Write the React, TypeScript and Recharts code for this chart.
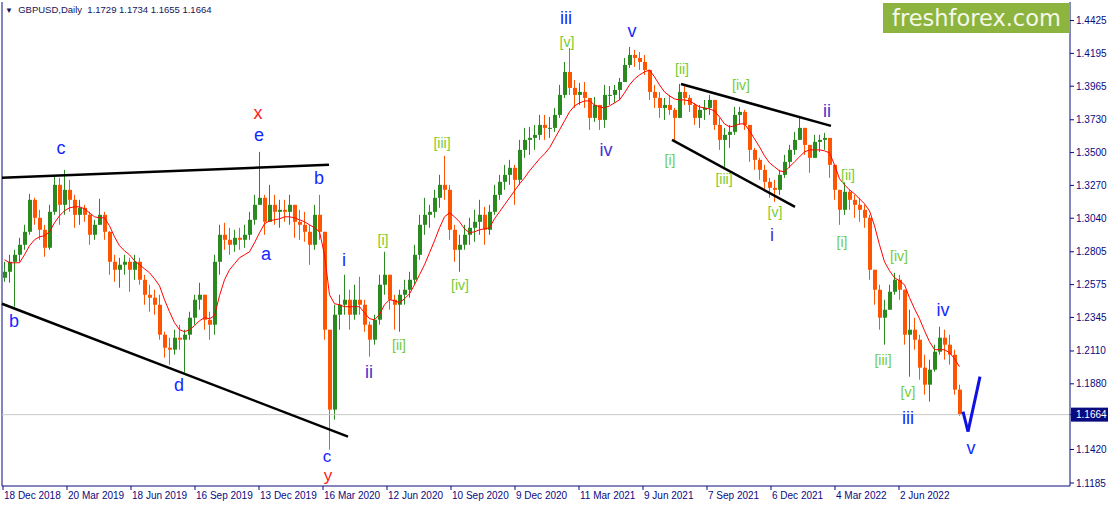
import { ComposedChart, Bar, Line, XAxis, YAxis, ReferenceLine, ReferenceDot } from 'recharts'

// weekly candles (open = previous close)
const firstOpen = 1.2623
const highs = [
  1.2735, 1.2784, 1.2819, 1.2903, 1.2994, 1.3211, 1.3183, 1.3099, 1.2994, 1.3134,
  1.3337, 1.3323, 1.3379, 1.3309, 1.3204, 1.3169, 1.3134, 1.3085, 1.3029, 1.3176,
  1.3085, 1.2950, 1.2784, 1.2763, 1.2784, 1.2763, 1.2784, 1.2763, 1.2644, 1.2574,
  1.2539, 1.2504, 1.2245, 1.2203, 1.2259, 1.2294, 1.2259, 1.2385, 1.2504, 1.2588,
  1.2434, 1.2385, 1.2784, 1.2994, 1.3008, 1.2973, 1.2959, 1.2973, 1.2994, 1.3085,
  1.3204, 1.3505, 1.3204, 1.3274, 1.3204, 1.3169, 1.3169, 1.3204, 1.3134, 1.3099,
  1.3085, 1.2994, 1.3134, 1.3204, 1.2945, 1.2259, 1.2434, 1.2504, 1.2644, 1.2539,
  1.2574, 1.2630, 1.2469, 1.2315, 1.2364, 1.2644, 1.2805, 1.2609, 1.2504, 1.2539,
  1.2609, 1.2665, 1.2854, 1.3064, 1.3183, 1.3134, 1.3239, 1.3344, 1.3477, 1.3274,
  1.2994, 1.2924, 1.2994, 1.3043, 1.3099, 1.3169, 1.3120, 1.3134, 1.3274, 1.3344,
  1.3414, 1.3449, 1.3414, 1.3589, 1.3673, 1.3680, 1.3694, 1.3764, 1.3764, 1.3750,
  1.3813, 1.3974, 1.4135, 1.4233, 1.4009, 1.3988, 1.3995, 1.3869, 1.3890, 1.3834,
  1.3974, 1.3967, 1.3974, 1.4023, 1.4163, 1.4240, 1.4219, 1.4205, 1.4184, 1.4079,
  1.3974, 1.3925, 1.3883, 1.3904, 1.3813, 1.3981, 1.3967, 1.3904, 1.3848, 1.3834,
  1.3869, 1.3904, 1.3834, 1.3743, 1.3673, 1.3694, 1.3820, 1.3820, 1.3799, 1.3694,
  1.3533, 1.3463, 1.3414, 1.3323, 1.3309, 1.3379, 1.3484, 1.3554, 1.3645, 1.3743,
  1.3673, 1.3554, 1.3624, 1.3624, 1.3638, 1.3603, 1.3414, 1.3239, 1.3288, 1.3239,
  1.3204, 1.3183, 1.3134, 1.3064, 1.2679, 1.2574, 1.2469, 1.2574, 1.2658, 1.2644,
  1.2539, 1.2399, 1.2343, 1.2224, 1.2084, 1.2049, 1.2154, 1.2280, 1.2259, 1.2224,
  1.2119, 1.1874,
]
const lows = [
  1.2595, 1.2588, 1.2420, 1.2735, 1.2819, 1.2924, 1.2994, 1.2889, 1.2770, 1.2819,
  1.3064, 1.2994, 1.3064, 1.3085, 1.2973, 1.2994, 1.3015, 1.2854, 1.2889, 1.2994,
  1.2889, 1.2644, 1.2595, 1.2553, 1.2644, 1.2525, 1.2609, 1.2574, 1.2434, 1.2385,
  1.2364, 1.2189, 1.2063, 1.2014, 1.2084, 1.2119, 1.1958, 1.2189, 1.2294, 1.2399,
  1.2259, 1.2189, 1.2224, 1.2644, 1.2819, 1.2784, 1.2805, 1.2819, 1.2833, 1.2889,
  1.2994, 1.3134, 1.2924, 1.3029, 1.2994, 1.2973, 1.3015, 1.2994, 1.2903, 1.2889,
  1.2875, 1.2714, 1.2819, 1.2889, 1.2189, 1.1419, 1.1629, 1.2259, 1.2364, 1.2259,
  1.2329, 1.2364, 1.2245, 1.2070, 1.2154, 1.2294, 1.2504, 1.2399, 1.2259, 1.2245,
  1.2434, 1.2483, 1.2574, 1.2749, 1.2924, 1.2973, 1.3043, 1.3113, 1.3169, 1.2889,
  1.2735, 1.2665, 1.2819, 1.2854, 1.2875, 1.2924, 1.2854, 1.2924, 1.3064, 1.3169,
  1.3239, 1.3274, 1.3134, 1.3274, 1.3463, 1.3484, 1.3519, 1.3589, 1.3589, 1.3603,
  1.3645, 1.3743, 1.3883, 1.3904, 1.3813, 1.3834, 1.3813, 1.3659, 1.3715, 1.3659,
  1.3673, 1.3834, 1.3848, 1.3869, 1.3995, 1.4093, 1.4100, 1.4079, 1.4044, 1.3869,
  1.3813, 1.3743, 1.3729, 1.3764, 1.3575, 1.3743, 1.3834, 1.3785, 1.3694, 1.3673,
  1.3729, 1.3764, 1.3659, 1.3519, 1.3400, 1.3533, 1.3624, 1.3694, 1.3659, 1.3435,
  1.3379, 1.3309, 1.3239, 1.3183, 1.3155, 1.3204, 1.3323, 1.3393, 1.3484, 1.3589,
  1.3484, 1.3358, 1.3463, 1.3505, 1.3519, 1.3323, 1.3169, 1.2994, 1.3064, 1.3099,
  1.3043, 1.3015, 1.2973, 1.2609, 1.2434, 1.2259, 1.2154, 1.2399, 1.2504, 1.2469,
  1.2154, 1.1930, 1.2119, 1.1909, 1.1804, 1.1755, 1.1965, 1.2084, 1.2049, 1.2014,
  1.1804, 1.1655,
]
const closes = [
  1.2665, 1.2735, 1.2784, 1.2854, 1.2945, 1.3169, 1.3043, 1.2959, 1.2833, 1.3085,
  1.3274, 1.3134, 1.3239, 1.3169, 1.3064, 1.3113, 1.3064, 1.2924, 1.2994, 1.3064,
  1.2945, 1.2735, 1.2679, 1.2714, 1.2735, 1.2679, 1.2735, 1.2609, 1.2504, 1.2483,
  1.2434, 1.2224, 1.2133, 1.2119, 1.2203, 1.2189, 1.2224, 1.2343, 1.2469, 1.2504,
  1.2329, 1.2294, 1.2735, 1.2924, 1.2889, 1.2854, 1.2903, 1.2889, 1.2924, 1.3029,
  1.3134, 1.3183, 1.3015, 1.3134, 1.3085, 1.3099, 1.3085, 1.3134, 1.3015, 1.2994,
  1.2945, 1.2854, 1.3064, 1.2945, 1.2259, 1.1699, 1.2364, 1.2434, 1.2469, 1.2364,
  1.2469, 1.2434, 1.2294, 1.2189, 1.2329, 1.2574, 1.2644, 1.2469, 1.2434, 1.2504,
  1.2539, 1.2609, 1.2784, 1.2994, 1.3064, 1.3085, 1.3183, 1.3274, 1.3239, 1.2959,
  1.2819, 1.2854, 1.2924, 1.2973, 1.3015, 1.3064, 1.2959, 1.3085, 1.3204, 1.3295,
  1.3344, 1.3393, 1.3309, 1.3519, 1.3589, 1.3603, 1.3624, 1.3694, 1.3673, 1.3673,
  1.3764, 1.3904, 1.4065, 1.3953, 1.3904, 1.3925, 1.3883, 1.3743, 1.3834, 1.3729,
  1.3904, 1.3904, 1.3939, 1.3995, 1.4114, 1.4184, 1.4163, 1.4135, 1.4079, 1.3925,
  1.3883, 1.3813, 1.3834, 1.3799, 1.3743, 1.3925, 1.3883, 1.3834, 1.3743, 1.3799,
  1.3813, 1.3869, 1.3694, 1.3589, 1.3624, 1.3645, 1.3764, 1.3785, 1.3694, 1.3519,
  1.3449, 1.3379, 1.3295, 1.3253, 1.3239, 1.3344, 1.3435, 1.3519, 1.3589, 1.3673,
  1.3554, 1.3463, 1.3575, 1.3589, 1.3603, 1.3414, 1.3239, 1.3099, 1.3225, 1.3169,
  1.3134, 1.3099, 1.3043, 1.2679, 1.2539, 1.2343, 1.2399, 1.2525, 1.2609, 1.2539,
  1.2224, 1.2259, 1.2189, 1.1993, 1.1874, 1.1979, 1.2105, 1.2203, 1.2154, 1.2084,
  1.1839, 1.1664,
]
// red moving average as drawn on the chart, one value per week
const ma20 = [
  1.2749, 1.2728, 1.2728, 1.2728, 1.2784, 1.2847, 1.2889, 1.2910, 1.2917, 1.2945,
  1.3008, 1.3057, 1.3092, 1.3113, 1.3120, 1.3120, 1.3106, 1.3078, 1.3050, 1.3043,
  1.3043, 1.2987, 1.2910, 1.2847, 1.2812, 1.2784, 1.2742, 1.2714, 1.2686, 1.2658,
  1.2616, 1.2567, 1.2469, 1.2385, 1.2308, 1.2259, 1.2245, 1.2259, 1.2287, 1.2322,
  1.2343, 1.2336, 1.2357, 1.2497, 1.2609, 1.2679, 1.2721, 1.2763, 1.2784, 1.2805,
  1.2868, 1.2938, 1.3001, 1.3022, 1.3029, 1.3036, 1.3050, 1.3050, 1.3043, 1.3029,
  1.3015, 1.2994, 1.2973, 1.2945, 1.2784, 1.2504, 1.2441, 1.2434, 1.2420, 1.2420,
  1.2420, 1.2420, 1.2378, 1.2336, 1.2329, 1.2364, 1.2434, 1.2469, 1.2462, 1.2448,
  1.2476, 1.2511, 1.2574, 1.2644, 1.2714, 1.2798, 1.2882, 1.2973, 1.3050, 1.3078,
  1.3050, 1.3015, 1.2966, 1.2938, 1.2945, 1.2959, 1.2966, 1.2973, 1.3036, 1.3085,
  1.3134, 1.3183, 1.3232, 1.3281, 1.3323, 1.3372, 1.3414, 1.3456, 1.3491, 1.3533,
  1.3596, 1.3659, 1.3722, 1.3785, 1.3827, 1.3848, 1.3862, 1.3862, 1.3834, 1.3820,
  1.3813, 1.3827, 1.3848, 1.3869, 1.3918, 1.3974, 1.4016, 1.4044, 1.4065, 1.4079,
  1.4030, 1.3974, 1.3925, 1.3897, 1.3876, 1.3869, 1.3869, 1.3862, 1.3841, 1.3820,
  1.3813, 1.3806, 1.3792, 1.3750, 1.3701, 1.3680, 1.3687, 1.3701, 1.3701, 1.3652,
  1.3596, 1.3540, 1.3477, 1.3428, 1.3400, 1.3372, 1.3365, 1.3400, 1.3435, 1.3470,
  1.3505, 1.3519, 1.3519, 1.3519, 1.3512, 1.3498, 1.3414, 1.3316, 1.3274, 1.3239,
  1.3211, 1.3176, 1.3141, 1.3092, 1.2987, 1.2854, 1.2735, 1.2672, 1.2623, 1.2602,
  1.2574, 1.2483, 1.2406, 1.2336, 1.2252, 1.2175, 1.2119, 1.2119, 1.2119, 1.2098,
  1.2056, 1.2000,
]

// x axis is counted in trading days from 18 Dec 2018
const dateTicks = [1, 65, 129, 193, 257, 321, 385, 449, 513, 577, 641, 705, 769, 833, 897]
const dateLabels = [
  '18 Dec 2018', '20 Mar 2019', '18 Jun 2019', '16 Sep 2019', '13 Dec 2019', '16 Mar 2020',
  '12 Jun 2020', '10 Sep 2020', '9 Dec 2020', '11 Mar 2021', '9 Jun 2021', '7 Sep 2021',
  '6 Dec 2021', '4 Mar 2022', '2 Jun 2022',
]
const priceTicks = [
  1.4425, 1.4195, 1.3965, 1.373, 1.35, 1.327, 1.304, 1.2805, 1.2575, 1.2345,
  1.211, 1.188, 1.1664, 1.142, 1.1185,
]
const lastPrice = 1.1664

const BLUE = '#1428ff'
const INDIGO = '#4632d2'
const RED = '#ff2020'
const LIME = '#74cc34'

// wave counts [text, day, price, colour, size]
const waveLabels: [string, number, number, string, number][] = [
  ['c', 59, 1.3533, BLUE, 18], ['b', 12, 1.2322, BLUE, 18], ['d', 177, 1.1874, BLUE, 18],
  ['x', 256, 1.3778, RED, 18], ['e', 257, 1.3624, BLUE, 18], ['a', 264, 1.2791, BLUE, 18],
  ['b', 317, 1.3323, BLUE, 18], ['c', 325, 1.1377, BLUE, 17], ['y', 326, 1.1242, RED, 17],
  ['i', 342, 1.2749, BLUE, 18], ['ii', 367, 1.1965, INDIGO, 18],
  ['[i]', 381, 1.2889, LIME, 14], ['[ii]', 397, 1.2154, LIME, 14], ['[iii]', 440, 1.3568, LIME, 14],
  ['[iv]', 458, 1.2574, LIME, 14], ['iii', 564, 1.4443, BLUE, 18], ['[v]', 565, 1.4275, LIME, 14],
  ['v', 630, 1.4352, BLUE, 18], ['iv', 604, 1.3519, INDIGO, 18],
  ['[ii]', 680, 1.4086, LIME, 14], ['[i]', 668, 1.3449, LIME, 14], ['[iv]', 739, 1.3974, LIME, 14],
  ['[iii]', 722, 1.3316, LIME, 14], ['ii', 825, 1.3792, INDIGO, 18], ['[v]', 773, 1.3085, LIME, 14],
  ['i', 770, 1.2924, INDIGO, 18], ['[ii]', 846, 1.3344, LIME, 14], ['[i]', 840, 1.2875, LIME, 14],
  ['[iv]', 897, 1.2777, LIME, 14], ['[iii]', 881, 1.2049, LIME, 14], ['[v]', 906, 1.1825, LIME, 14],
  ['iii', 906, 1.1643, BLUE, 18], ['iv', 941, 1.2399, BLUE, 18], ['v', 969, 1.1433, BLUE, 18],
]

// trend lines [day1, price1, day2, price2, colour]
const trendLines: [number, number, number, number, string][] = [
  [0, 1.3323, 327, 1.3414, '#000000'],
  [0, 1.2441, 346, 1.1510, '#000000'],
  [679, 1.3981, 829, 1.3687, '#000000'],
  [670, 1.3589, 793, 1.3120, '#000000'],
  [961, 1.1685, 966, 1.1545, '#1010e0'],
  [966, 1.1545, 978, 1.1930, '#1010e0'],
]

const UP = '#2a8a1f'
const DOWN = '#ff5500'
const NAVY = '#0a0a80'

const candles = closes.map((c, i) => ({
  day: 5 * i + 2.5,
  open: i === 0 ? firstOpen : closes[i - 1],
  high: highs[i],
  low: lows[i],
  close: c,
  range: [lows[i], highs[i]],
  ma: ma20[i],
}))

const Candle = (props: any) => {
  const { x, y, width, height, payload } = props
  if (x == null || !payload) return null
  const top = Math.min(y, y + height)
  const bot = Math.max(y, y + height)
  const { open, close, high, low } = payload
  const span = high - low || 0.0001
  const py = (v: number) => top + ((high - v) / span) * (bot - top)
  const cx = x + width / 2
  const color = close >= open ? UP : DOWN
  const bTop = py(Math.max(open, close))
  const bBot = py(Math.min(open, close))
  return (
    <g>
      <line x1={cx} x2={cx} y1={py(Math.max(high, open, close))} y2={py(Math.min(low, open, close))}
        stroke={color} strokeWidth={1} />
      <rect x={cx - 1.5} y={bTop} width={4} height={Math.max(1, bBot - bTop)} fill={color} />
    </g>
  )
}

const DateTick = ({ x, y, index }: any) => (
  <g>
    <line x1={x} x2={x} y1={y} y2={y + 4} stroke={NAVY} />
    <text x={x + 1} y={y + 13} fontSize={10} fill={NAVY} fontFamily="Liberation Sans, Arial, sans-serif">
      {dateLabels[index] ?? ''}
    </text>
  </g>
)

const PriceTick = ({ x, y, payload }: any) => {
  const isLast = payload.value === lastPrice
  return (
    <g>
      <line x1={x} x2={x + 4} y1={y} y2={y} stroke={NAVY} />
      {isLast && <rect x={x + 1} y={y - 7} width={37} height={14} fill={NAVY} />}
      <text x={x + 6} y={y} dy="0.35em" fontSize={10} fill={isLast ? '#ffffff' : NAVY}
        fontFamily="Liberation Sans, Arial, sans-serif">
        {payload.value.toFixed(4)}
      </text>
    </g>
  )
}

export default function App() {
  return (
    <div style={{ position: 'absolute', left: 0, top: 0, width: 1111, height: 507, background: '#fff' }}>
      <ComposedChart width={1111} height={507} data={candles}
        margin={{ top: 2, right: 0, bottom: 0, left: 2 }}>
        <XAxis type="number" dataKey="day" domain={[0, 1068]} allowDataOverflow ticks={dateTicks}
          tick={<DateTick />} tickLine={false} tickSize={0} tickMargin={0} height={21}
          axisLine={{ stroke: NAVY }} interval={0} />
        <YAxis orientation="right" domain={[1.1164, 1.4555]} allowDataOverflow ticks={priceTicks}
          tick={<PriceTick />} tickLine={false} tickSize={0} tickMargin={0} width={41}
          axisLine={{ stroke: NAVY }} interval={0} />
        <ReferenceLine x={0} stroke={NAVY} ifOverflow="visible" />
        <ReferenceLine y={lastPrice} stroke="#c8c8c8" />
        <Bar dataKey="range" shape={<Candle />} barSize={3} isAnimationActive={false} />
        <Line dataKey="ma" type="linear" stroke="#ff0000" strokeWidth={1} dot={false}
          isAnimationActive={false} />
        {trendLines.map(([d1, p1, d2, p2, col], i) => (
          <ReferenceLine key={'t' + i} segment={[{ x: d1, y: p1 }, { x: d2, y: p2 }]}
            stroke={col} strokeWidth={col === '#000000' ? 2.5 : 3} ifOverflow="visible" />
        ))}
        {waveLabels.map(([t, d, p, col, size], i) => (
          <ReferenceDot key={'w' + i} x={d} y={p} r={0} ifOverflow="visible"
            shape={(s: any) => (
              <text x={s.cx} y={s.cy} dy="0.35em" textAnchor="middle" fontSize={size} fill={col}
                fontFamily="Liberation Sans, Arial, sans-serif">{t}</text>
            )} />
        ))}
      </ComposedChart>
      <div style={{
        position: 'absolute', left: 5, top: 4, fontSize: 9.5, color: '#14145a',
        fontFamily: 'Liberation Sans, Arial, sans-serif', whiteSpace: 'pre', lineHeight: '12px',
      }}>
        <span style={{ fontSize: 8 }}>▼</span>{'  GBPUSD,Daily  1.1729 1.1734 1.1655 1.1664'}
      </div>
      <div style={{
        position: 'absolute', left: 883, top: 3, width: 187, height: 30, background: '#8db43e',
        color: '#f4f8ea', fontFamily: 'DejaVu Sans, Verdana, sans-serif', fontSize: 22.5,
        lineHeight: '30px', paddingLeft: 9, boxSizing: 'border-box', whiteSpace: 'nowrap',
      }}>
        freshforex.com
      </div>
    </div>
  )
}
